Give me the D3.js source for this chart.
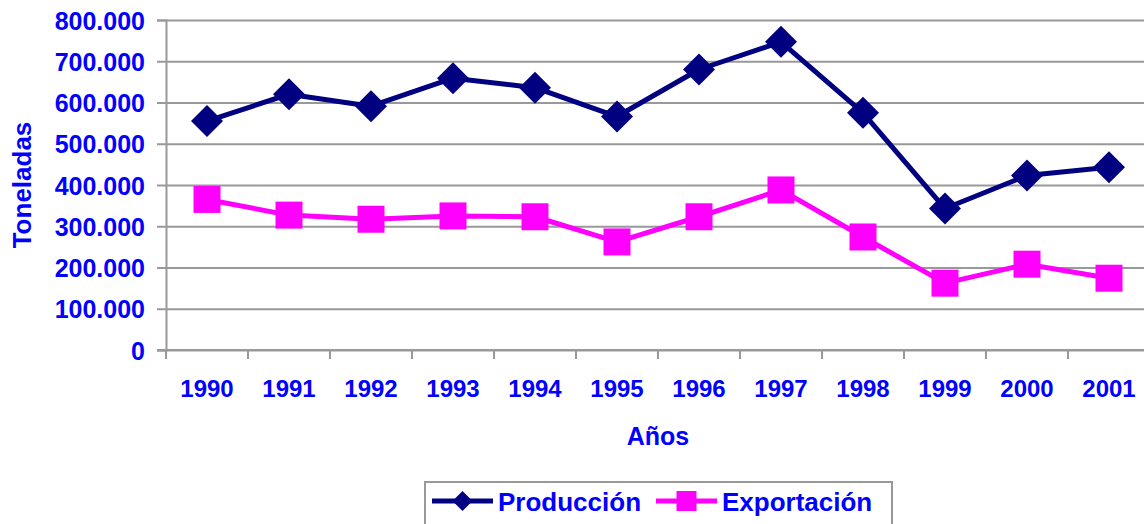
<!DOCTYPE html>
<html>
<head>
<meta charset="utf-8">
<script src="https://cdn.jsdelivr.net/npm/d3@7"></script>
<style>
  body { margin: 0; background: #fff; }
  text { font-family: Arial, "Liberation Sans", sans-serif; font-weight: bold; fill: #0000ff; }
</style>
</head>
<body>
<div id="chart"></div>
<script>
// data (toneladas)
const years = ['1990', '1991', '1992', '1993', '1994', '1995', '1996', '1997', '1998', '1999', '2000', '2001'];
const produccion = [555000, 620000, 591000, 659000, 636000, 566000, 680000, 747000, 575000, 343000, 423000, 443000];
const exportacion = [365000, 327000, 317000, 325000, 323000, 262000, 323000, 388000, 274000, 162000, 208000, 174000];
const yTicks = [0, 100000, 200000, 300000, 400000, 500000, 600000, 700000, 800000];

var width = 1144
    ,height = 524
    ,margin = { top: 20, left: 166 }
    ,plotW = 984
    ,plotH = 330
    ,gridColor = '#999999';

const series = [
    { name: 'Producción', values: produccion, color: '#000080', symbol: d3.symbolSquare, size: 512, legendSize: 200, rotate: 45 },
    { name: 'Exportación', values: exportacion, color: '#ff00ff', symbol: d3.symbolSquare, size: 729, legendSize: 400, rotate: 0 }
];

const locale = d3.formatLocale({ decimal: ',', thousands: '.', grouping: [3], currency: ['', ''] });
const fmt = locale.format(',d');

const svg = d3.select('#chart').append('svg')
    .attr('width', width)
    .attr('height', height);

const g = svg.append('g')
    .attr('transform', 'translate(' + margin.left + ',' + margin.top + ')');

const x = d3.scaleBand()
    .domain(years)
    .range([0, plotW]);

const y = d3.scaleLinear()
    .domain([0, 800000])
    .range([plotH, 0]);

// gridlines
g.append('g')
    .attr('class', 'grid')
    .call(d3.axisLeft(y).tickValues(yTicks).tickSize(-plotW).tickFormat(''))
    .call(s => s.select('.domain').remove())
    .call(s => s.selectAll('line').attr('stroke', gridColor).attr('stroke-width', 2));

// y axis
g.append('g')
    .call(d3.axisLeft(y).tickValues(yTicks).tickSize(9).tickPadding(12).tickFormat(fmt))
    .call(s => s.select('.domain').attr('stroke', gridColor).attr('stroke-width', 2))
    .call(s => s.selectAll('line').attr('stroke', gridColor).attr('stroke-width', 2))
    .call(s => s.selectAll('text').attr('font-size', 25).attr('dy', '0.36em').attr('fill', '#0000ff'));

// x axis: labels at band centres, ticks at band boundaries
const xAxis = g.append('g')
    .attr('transform', 'translate(0,' + plotH + ')');

xAxis.call(d3.axisBottom(x).tickSize(0).tickPadding(30))
    .call(s => s.select('.domain').remove())
    .call(s => s.selectAll('text').attr('font-size', 24).attr('dy', '0.71em').attr('fill', '#0000ff'));

xAxis.append('line')
    .attr('x1', -9).attr('x2', plotW)
    .attr('stroke', gridColor).attr('stroke-width', 2);

xAxis.selectAll('.bound')
    .data(d3.range(years.length + 1))
    .enter().append('line')
    .attr('class', 'bound')
    .attr('x1', d => d * x.step())
    .attr('x2', d => d * x.step())
    .attr('y1', 0).attr('y2', 9)
    .attr('stroke', gridColor).attr('stroke-width', 2);

// axis titles
svg.append('text')
    .attr('x', 658)
    .attr('y', 445)
    .attr('text-anchor', 'middle')
    .attr('font-size', 25)
    .text('Años');

svg.append('text')
    .attr('transform', 'translate(31,185) rotate(-90)')
    .attr('text-anchor', 'middle')
    .attr('font-size', 26)
    .text('Toneladas');

// lines and markers
const line = d3.line()
    .x((d, i) => x(years[i]) + x.bandwidth() / 2)
    .y(d => y(d));

series.forEach(function(s) {
    g.append('path')
        .datum(s.values)
        .attr('fill', 'none')
        .attr('stroke', s.color)
        .attr('stroke-width', 5)
        .attr('stroke-linejoin', 'round')
        .attr('d', line);

    g.selectAll('.m-' + s.rotate)
        .data(s.values)
        .enter().append('path')
        .attr('class', 'm-' + s.rotate)
        .attr('d', d3.symbol().type(s.symbol).size(s.size))
        .attr('fill', s.color)
        .attr('transform', (d, i) => 'translate(' + (x(years[i]) + x.bandwidth() / 2) + ',' + y(d) + ') rotate(' + s.rotate + ')');
});

// legend
const legend = svg.append('g');

legend.append('rect')
    .attr('x', 425).attr('y', 482)
    .attr('width', 467).attr('height', 60)
    .attr('fill', '#fff')
    .attr('stroke', gridColor).attr('stroke-width', 2);

const legendX = [432, 656];
const textX = [498, 722];

series.forEach(function(s, i) {
    const lg = legend.append('g');
    lg.append('line')
        .attr('x1', legendX[i]).attr('x2', legendX[i] + 61)
        .attr('y1', 501).attr('y2', 501)
        .attr('stroke', s.color).attr('stroke-width', 5);
    lg.append('path')
        .attr('d', d3.symbol().type(s.symbol).size(s.legendSize))
        .attr('fill', s.color)
        .attr('transform', 'translate(' + (legendX[i] + 30.5) + ',501) rotate(' + s.rotate + ')');
    lg.append('text')
        .attr('x', textX[i])
        .attr('y', 511)
        .attr('font-size', 26)
        .text(s.name);
});
</script>
</body>
</html>
